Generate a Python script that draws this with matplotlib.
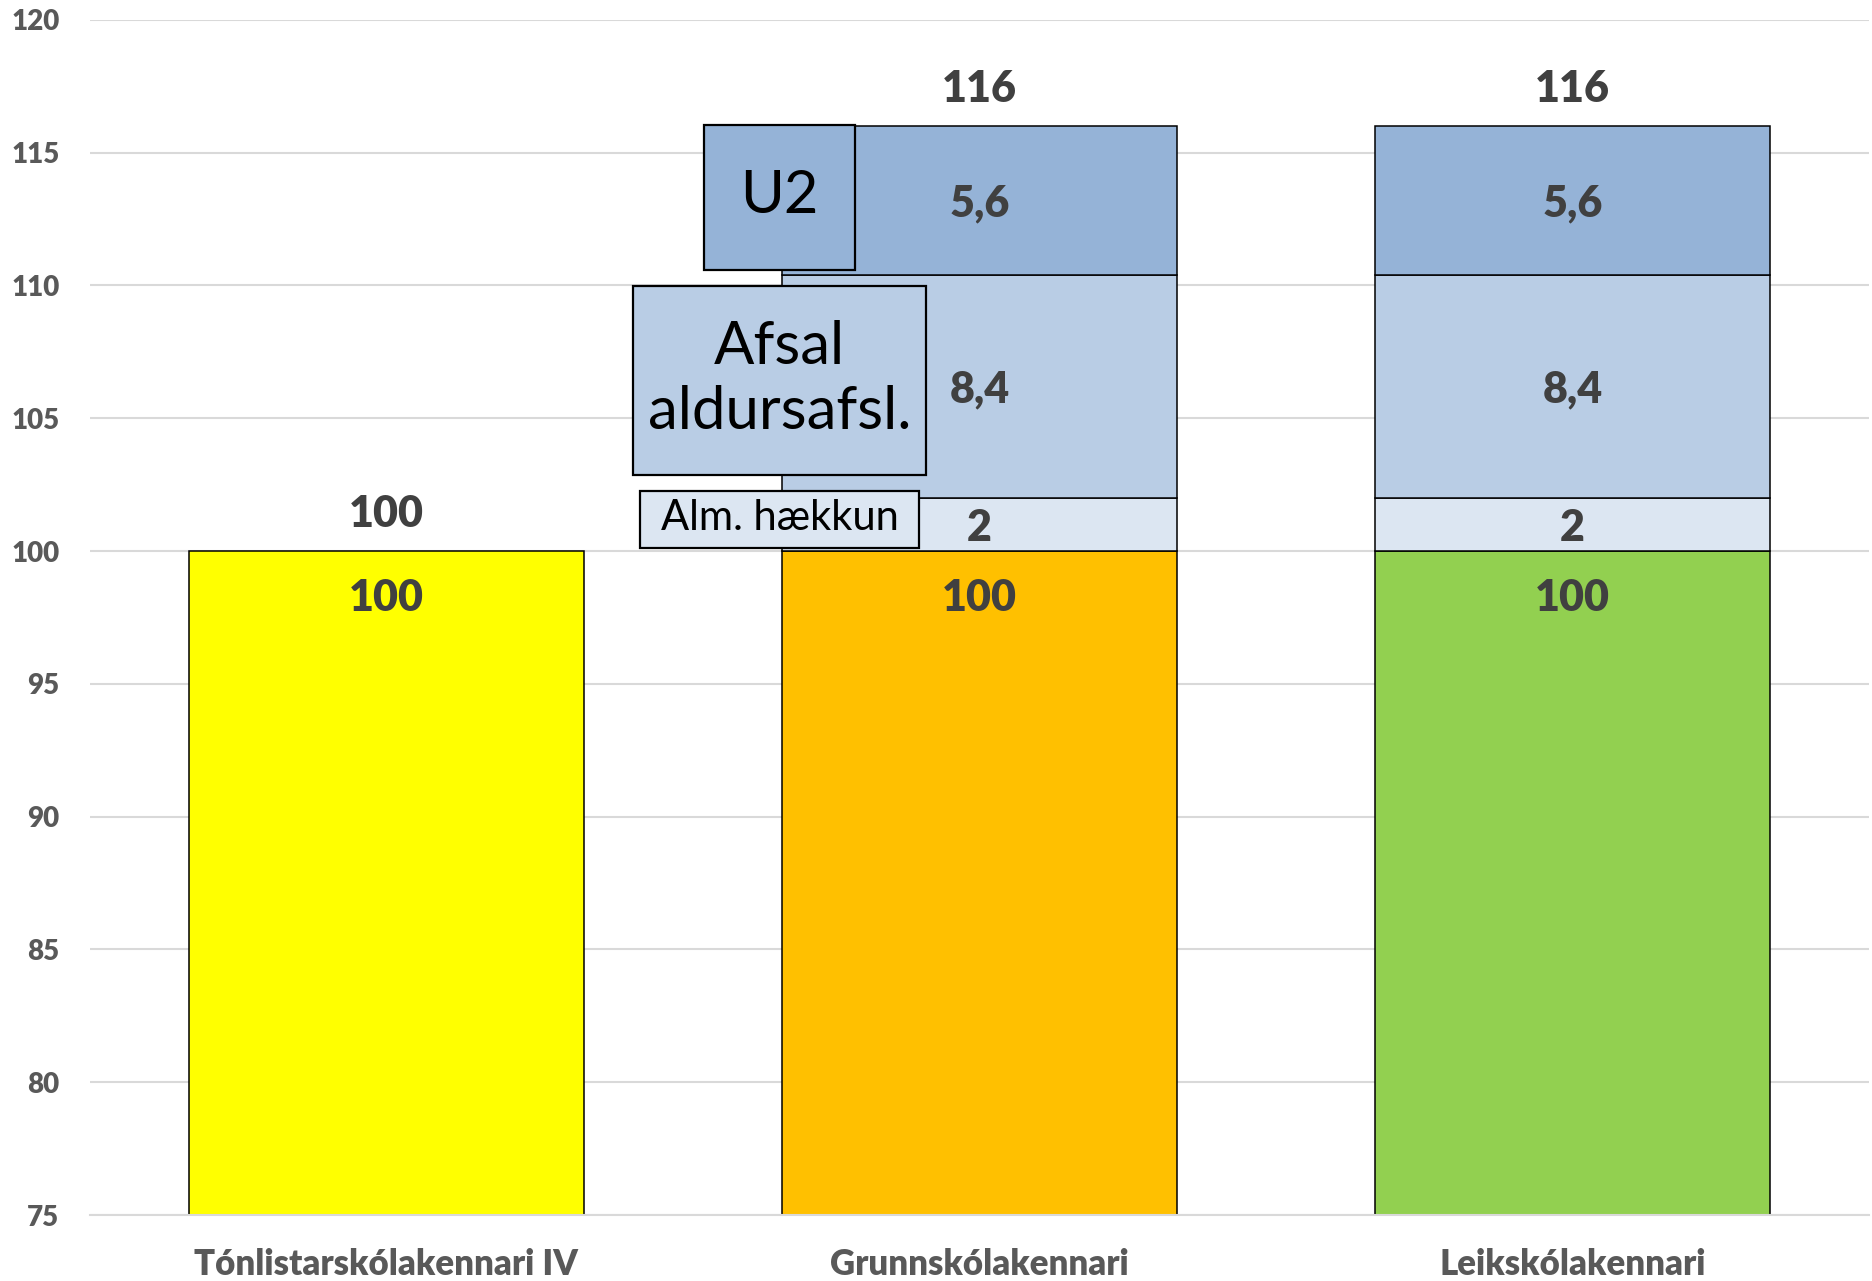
import matplotlib
matplotlib.use("Agg")
import matplotlib.pyplot as plt
from matplotlib.patches import Rectangle
import numpy as np

categories = ["Tónlistarskólakennari IV", "Grunnskólakennari", "Leikskólakennari"]
base = [100, 100, 100]
alm_haekkun = [0, 2, 2]
afsal = [0, 8.4, 8.4]
u2 = [0, 5.6, 5.6]
totals = [100, 116, 116]
yticks = [75, 80, 85, 90, 95, 100, 105, 110, 115, 120]

base_colors = ["#FFFF00", "#FFC000", "#92D050"]
c_alm = "#DCE6F2"
c_afsal = "#B9CDE5"
c_u2 = "#95B3D7"

plt.rcParams['font.family'] = ['Lato', 'DejaVu Sans']

fig = plt.figure(figsize=(18.72, 12.81), dpi=100)
ax = fig.add_axes([0.048, 0.0515, 0.9505, 0.933])

x = np.arange(len(categories))
w = 0.667
ew = 1.1

ax.bar(x, base, w, color=base_colors, edgecolor="black", linewidth=ew, zorder=3)
b1 = np.array(base)
ax.bar(x[1:], alm_haekkun[1:], w, bottom=b1[1:], color=c_alm, edgecolor="black", linewidth=ew, zorder=3)
b2 = b1 + np.array(alm_haekkun)
ax.bar(x[1:], afsal[1:], w, bottom=b2[1:], color=c_afsal, edgecolor="black", linewidth=ew, zorder=3)
b3 = b2 + np.array(afsal)
ax.bar(x[1:], u2[1:], w, bottom=b3[1:], color=c_u2, edgecolor="black", linewidth=ew, zorder=3)

lab_color = "#404040"
lab_fs = 31
lab_w = "heavy"

def fmt(v):
    s = f"{v:g}"
    return s.replace(".", ",")

for i in range(len(categories)):
    ax.annotate(fmt(base[i]), (x[i], base[i]), xytext=(0, -33.5), textcoords="offset points",
                ha="center", va="center", fontsize=lab_fs, fontweight=lab_w, color=lab_color, zorder=5)
    ax.annotate(fmt(totals[i]), (x[i], totals[i]), xytext=(0, 26.5), textcoords="offset points",
                ha="center", va="center", fontsize=lab_fs, fontweight=lab_w, color=lab_color, zorder=5)
    if alm_haekkun[i]:
        ax.text(x[i], b1[i] + alm_haekkun[i] / 2 - 0.15, fmt(alm_haekkun[i]), ha="center", va="center",
                fontsize=lab_fs, fontweight=lab_w, color=lab_color, zorder=5)
        ax.text(x[i], b2[i] + afsal[i] / 2 - 0.1, fmt(afsal[i]), ha="center", va="center",
                fontsize=lab_fs, fontweight=lab_w, color=lab_color, zorder=5)
        ax.text(x[i], b3[i] + u2[i] / 2 - 0.1, fmt(u2[i]), ha="center", va="center",
                fontsize=lab_fs, fontweight=lab_w, color=lab_color, zorder=5)

# annotation boxes
boxes = [
    ("U2", 0.536, 0.790, 110.59, 116.05, c_u2, 43, 1.0),
    ("Afsal\naldursafsl.", 0.416, 0.910, 102.87, 109.98, c_afsal, 43, 1.25),
    ("Alm. hækkun", 0.428, 0.898, 100.12, 102.27, c_alm, 30, 1.0),
]
for txt, x0, x1, y0, y1, col, fs, ls in boxes:
    ax.add_patch(Rectangle((x0, y0), x1 - x0, y1 - y0, facecolor=col, edgecolor="black",
                           linewidth=1.6, zorder=6))
    ax.text((x0 + x1) / 2, (y0 + y1) / 2 + 0.05, txt, ha="center", va="center", fontsize=fs,
            color="black", zorder=7, linespacing=ls)

ax.set_xlim(-0.5, 2.5)
ax.set_ylim(75, 120)
ax.set_yticks(yticks)
ax.set_xticks(x)
ax.set_xticklabels(categories)
ax.grid(axis="y", color="#D9D9D9", linewidth=1.5, zorder=0)
ax.set_axisbelow(True)
for s in ["left", "right", "top"]:
    ax.spines[s].set_visible(False)
ax.spines["bottom"].set_color("#D9D9D9")
ax.spines["bottom"].set_linewidth(1.5)
ax.spines["bottom"].set_zorder(4)
ax.tick_params(axis="both", length=0, colors="#595959")
ax.tick_params(axis="y", labelsize=20, pad=22)
ax.tick_params(axis="x", labelsize=25, pad=24)
for lbl in ax.get_xticklabels() + ax.get_yticklabels():
    lbl.set_fontweight(lab_w)

fig.savefig("out.png", dpi=100)
